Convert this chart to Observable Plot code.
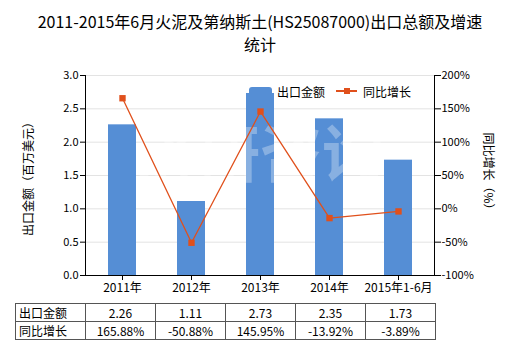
<!DOCTYPE html>
<html><head><meta charset="utf-8">
<script src="https://cdn.jsdelivr.net/npm/d3@7"></script>
<script src="https://cdn.jsdelivr.net/npm/@observablehq/plot@0.6"></script>
<style>
body{margin:0;background:#fff;font-family:"Noto Sans CJK SC","Noto Sans",sans-serif;}
#wrap{position:relative;width:520px;height:350px;overflow:hidden;background:#fff}
#wrap svg{position:absolute;left:0;top:0}
.title{position:absolute;left:0;width:520px;text-align:center;font-size:16px;color:#000;line-height:24px}
.ytitle{position:absolute;font-size:12px;white-space:nowrap;color:#000}
.leg{position:absolute;font-size:12px;color:#000;white-space:nowrap;line-height:14px}
table{position:absolute;left:15px;top:303px;border-collapse:collapse;font-size:12px;color:#000;font-family:"Noto Sans CJK SC","Noto Sans",sans-serif}
td{border:1px solid #555;height:17px;padding:0;width:69px;text-align:center;line-height:16px}
td.lab{text-align:left;padding-left:3px;width:66px}
</style></head><body><div id="wrap"></div>
<script>
const categories = ["2011年","2012年","2013年","2014年","2015年1-6月"];
const exportValues = [2.26, 1.11, 2.73, 2.35, 1.73];
const growthRates = [165.88, -50.88, 145.95, -13.92, -3.89];
const leftTicks = [0, 0.5, 1, 1.5, 2, 2.5, 3];
const rightTicks = [-100, -50, 0, 50, 100, 150, 200];
const valueLabels = ["2.26", "1.11", "2.73", "2.35", "1.73"];
const rateLabels = ["165.88%", "-50.88%", "145.95%", "-13.92%", "-3.89%"];
const seriesNames = ["出口金额", "同比增长"];

const barColor = "#558ed5";
const lineColor = "#e0501c";
const toLeft = p => (p + 100) / 100;

const data = categories.map((c, i) => ({cat: c, value: exportValues[i], rate: growthRates[i]}));

const chart = Plot.plot({
  width: 520, height: 350,
  marginTop: 75, marginBottom: 75, marginLeft: 85, marginRight: 86,
  style: {fontFamily: '"Noto Sans CJK SC","Noto Sans",sans-serif', fontSize: "11px", color: "#000", background: "transparent"},
  x: {domain: categories, paddingInner: 0.6, paddingOuter: 0.3},
  y: {domain: [0, 3]},
  marks: [
    Plot.gridY(leftTicks, {stroke: "#e3e3e3", strokeOpacity: 1}),
    Plot.barY(data, {x: "cat", y: "value", fill: barColor}),
    Plot.text(["济研咨询"], {frameAnchor: "middle", dy: -18, fontSize: 62, fontWeight: "bold", fill: "#fff", fillOpacity: 0.3, letterSpacing: "22px"}),
    Plot.line(data, {x: "cat", y: d => toLeft(d.rate), stroke: lineColor, strokeWidth: 1.3}),
    Plot.dot(data, {x: "cat", y: d => toLeft(d.rate), symbol: "square", r: 3.6, fill: lineColor, stroke: "none"}),
    Plot.axisY(leftTicks, {anchor: "left", tickSize: 5, tickPadding: 2, tickFormat: d3.format(".1f"), label: null}),
    Plot.axisY(rightTicks.map(toLeft), {anchor: "right", tickSize: 6, tickPadding: 1, tickFormat: d => Math.round(d * 100 - 100) + "%", label: null}),
    Plot.axisX({tickSize: 5, tickPadding: 3, label: null, fontSize: 12}),
    Plot.frame({anchor: "left", stroke: "#000"}),
    Plot.frame({anchor: "right", stroke: "#000"}),
    Plot.ruleY([0], {stroke: "#000"})
  ]
});

const wrap = document.getElementById("wrap");
wrap.appendChild(chart);

const t1 = document.createElement("div");
t1.className = "title"; t1.style.top = "9px";
t1.textContent = "2011-2015年6月火泥及第纳斯土(HS25087000)出口总额及增速";
wrap.appendChild(t1);
const t2 = document.createElement("div");
t2.className = "title"; t2.style.top = "32px";
t2.textContent = "统计";
wrap.appendChild(t2);

const yl = document.createElement("div");
yl.className = "ytitle";
yl.textContent = "出口金额（百万美元）";
yl.style.left = "27px"; yl.style.top = "176px";
yl.style.transform = "translate(-50%,-50%) rotate(-90deg)";
wrap.appendChild(yl);
const yr = document.createElement("div");
yr.className = "ytitle";
yr.textContent = "同比增长（%）";
yr.style.left = "489px"; yr.style.top = "174px";
yr.style.transform = "translate(-50%,-50%) rotate(90deg)";
wrap.appendChild(yr);

// legend
const sym = document.createElement("div");
sym.style.cssText = `position:absolute;left:249px;top:87px;width:23px;height:10px;background:${barColor};border-radius:3px 3px 0 0`;
wrap.appendChild(sym);
const l1 = document.createElement("div");
l1.className = "leg"; l1.style.left = "277px"; l1.style.top = "85px";
l1.textContent = seriesNames[0];
wrap.appendChild(l1);
const ln = document.createElement("div");
ln.style.cssText = `position:absolute;left:336px;top:90px;width:21px;height:2px;background:${lineColor}`;
wrap.appendChild(ln);
const lm = document.createElement("div");
lm.style.cssText = `position:absolute;left:344px;top:88px;width:6px;height:6px;background:${lineColor}`;
wrap.appendChild(lm);
const l2 = document.createElement("div");
l2.className = "leg"; l2.style.left = "363px"; l2.style.top = "85px";
l2.textContent = seriesNames[1];
wrap.appendChild(l2);

// table
const table = document.createElement("table");
[[seriesNames[0], valueLabels], [seriesNames[1], rateLabels]].forEach(([name, vals]) => {
  const tr = document.createElement("tr");
  const th = document.createElement("td"); th.className = "lab"; th.textContent = name; tr.appendChild(th);
  vals.forEach(v => { const td = document.createElement("td"); td.textContent = v; tr.appendChild(td); });
  table.appendChild(tr);
});
wrap.appendChild(table);
</script></body></html>
